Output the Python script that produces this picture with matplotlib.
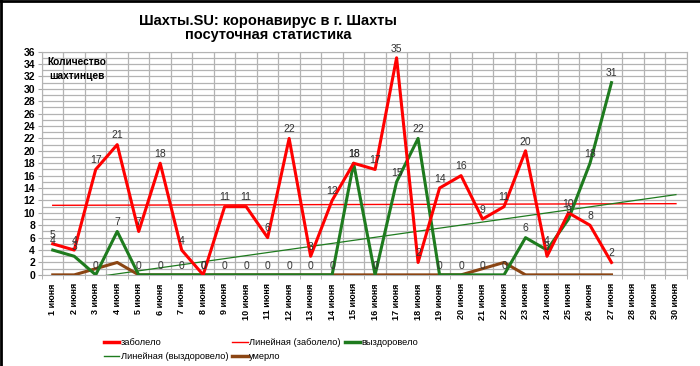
import numpy as np
import matplotlib
matplotlib.use('Agg')
import matplotlib.pyplot as plt
from matplotlib.lines import Line2D

plt.rcParams['font.family'] = ['Liberation Sans', 'DejaVu Sans']

days = list(range(1, 31))
day_labels = ['%d июня' % d for d in days]

# values by day (1..27 June)
sick = [5, 4, 17, 21, 7, 18, 4, 0, 11, 11, 6, 22, 3, 12, 18, 17, 35, 2, 14, 16, 9, 11, 20, 3, 10, 8, 2]
recovered = [4, 3, 0, 7, 0, 0, 0, 0, 0, 0, 0, 0, 0, 0, 18, 0, 15, 22, 0, 0, 0, 0, 6, 4, 9, 18, 31]
died = [0, 0, 1, 2, 0, 0, 0, 0, 0, 0, 0, 0, 0, 0, 0, 0, 0, 0, 0, 0, 1, 2, 0, 0, 0, 0, 0]

n = len(sick)
x = np.arange(1, n + 1)

fig = plt.figure(figsize=(7, 3.66), dpi=100)
ax = fig.add_axes([0.06, 0.249, 0.921, 0.61])

# linear trends (like spreadsheet "Линейная")
xt = np.array(days, dtype=float)
ps = np.polyfit(x, sick, 1)
pr = np.polyfit(x, recovered, 1)
ax.plot(xt, np.polyval(ps, xt), color='#ff0000', lw=1.0, zorder=2)
ax.plot(xt, np.polyval(pr, xt), color='#1e7b1e', lw=0.9, zorder=2)

ax.plot(x, died, color='#8b4513', lw=2.2, zorder=3)
ax.plot(x, recovered, color='#1e7b1e', lw=2.2, zorder=4)
ax.plot(x, sick, color='#ff0000', lw=2.2, zorder=5)

for xi, v in zip(x, sick):
    ax.annotate(str(v), (xi, v), xytext=(0, 3), textcoords='offset points',
                ha='center', va='bottom', fontsize=7.5, color='#333333', zorder=6)
for xi, v in zip(x, recovered):
    ax.annotate(str(v), (xi, v), xytext=(0, 3), textcoords='offset points',
                ha='center', va='bottom', fontsize=7.5, color='#333333', zorder=6)

ax.set_xlim(0.5, 30.5)
ax.set_ylim(0, 36)
ax.set_xticks(days)
ax.set_xticklabels(day_labels, rotation=90, fontsize=6.5, fontweight='bold')
ax.set_xticks(np.arange(0.5, 31, 1), minor=True)
ax.set_yticks(np.arange(0, 37, 2))
ax.set_yticks(np.arange(0, 37, 1), minor=True)
ax.tick_params(axis='y', which='major', labelsize=7.5, length=3, color='#aaaaaa', pad=2)
ax.tick_params(axis='y', which='minor', length=0)
ax.tick_params(axis='x', which='major', length=0, pad=6)
ax.tick_params(axis='x', which='minor', length=3, color='#aaaaaa')
for lab in ax.get_yticklabels():
    lab.set_fontweight('bold')
ax.grid(True, which='minor', axis='both', color='#b3b3b3', lw=0.9)
ax.grid(False, which='major', axis='x')
ax.grid(True, which='major', axis='y', color='#b3b3b3', lw=0.9)
for s in ax.spines.values():
    s.set_color('#b3b3b3')
ax.set_axisbelow(True)

ax.text(0.054, 0.975, 'Количество\nшахтинцев', transform=ax.transAxes, ha='center', va='top',
        multialignment='center', fontsize=7.3, fontweight='bold', linespacing=1.5)

fig.text(0.383, 0.963, 'Шахты.SU: коронавирус в г. Шахты\nпосуточная статистика',
         ha='center', va='top', fontsize=10.5, fontweight='bold', linespacing=1.05)

h_sick = Line2D([], [], color='#ff0000', lw=2.5)
h_sick_t = Line2D([], [], color='#ff0000', lw=1)
h_rec = Line2D([], [], color='#1e7b1e', lw=2.5)
h_rec_t = Line2D([], [], color='#1e7b1e', lw=1)
h_died = Line2D([], [], color='#8b4513', lw=2.5)
fig.legend([h_sick, h_rec_t, h_sick_t, h_died, h_rec],
           ['заболело', 'Линейная (выздоровело)', 'Линейная (заболело)', 'умерло', 'выздоровело'],
           ncol=3, loc='center', bbox_to_anchor=(0.373, 0.045), frameon=False,
           fontsize=6.7, handlelength=1.7, handletextpad=0.15, columnspacing=0.4,
           labelspacing=0.55, borderpad=0.1)

fig.add_artist(Line2D([0.0015, 0.0015], [0, 1], transform=fig.transFigure, color='black', lw=2))
fig.add_artist(Line2D([0, 1], [0.997, 0.997], transform=fig.transFigure, color='black', lw=2))

fig.savefig('out.png', dpi=100)
